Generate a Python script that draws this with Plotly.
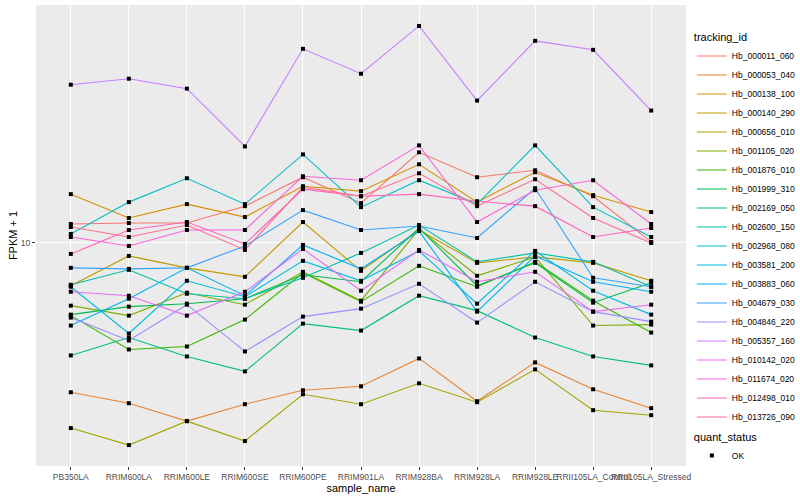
import math
import plotly.graph_objects as go

samples = ["PB350LA", "RRIM600LA", "RRIM600LE", "RRIM600SE", "RRIM600PE", "RRIM901LA",
           "RRIM928BA", "RRIM928LA", "RRIM928LE", "RRII105LA_Control", "RRII105LA_Stressed"]

tracking_ids = ["Hb_000011_060", "Hb_000053_040", "Hb_000138_100", "Hb_000140_290", "Hb_000656_010",
                "Hb_001105_020", "Hb_001876_010", "Hb_001999_310", "Hb_002169_050", "Hb_002600_150",
                "Hb_002968_080", "Hb_003581_200", "Hb_003883_060", "Hb_004679_030", "Hb_004846_220",
                "Hb_005357_160", "Hb_010142_020", "Hb_011674_020", "Hb_012498_010", "Hb_013726_090"]

colors = ["#F8766D", "#EA8331", "#D89000", "#C09B00", "#A3A500", "#7CAE00", "#39B600", "#00BB4E",
          "#00BF7D", "#00C1A3", "#00BFC4", "#00BAE0", "#00B0F6", "#35A2FF", "#9590FF", "#C77CFF",
          "#E76BF3", "#FA62DB", "#FF62BC", "#FF6C91"]

hb_000011_060 = [11.57, 11.66, 11.66, 13.28, 16.60, 13.59, 20.11, 16.60, 17.51, 14.34, 10.08]
hb_000053_040 = [3.162, 2.906, 2.531, 2.884, 3.211, 3.311, 4.105, 2.951, 3.981, 3.236, 2.797]
hb_000138_100 = [14.57, 12.12, 13.49, 12.21, 15.49, 14.91, 18.34, 13.70, 17.25, 14.45, 12.69]
hb_000140_290 = [7.189, 9.050, 8.254, 7.703, 11.75, 8.066, 11.05, 8.577, 8.981, 8.577, 7.470]
hb_000656_010 = [2.399, 2.105, 2.531, 2.171, 3.114, 2.884, 3.388, 2.929, 3.773, 2.754, 2.650]
hb_001105_020 = [6.166, 5.710, 6.813, 6.213, 8.005, 6.407, 11.13, 7.763, 8.981, 5.289, 5.329]
hb_001876_010 = [5.710, 4.399, 4.501, 5.538, 7.943, 6.358, 8.382, 7.134, 8.643, 6.407, 5.012]
hb_001999_310 = [5.754, 6.119, 6.261, 6.506, 7.822, 7.413, 11.22, 7.189, 8.577, 6.310, 7.356]
hb_002169_050 = [4.201, 4.823, 4.169, 3.715, 5.370, 5.089, 6.658, 5.934, 4.823, 4.169, 3.890]
hb_002600_150 = [7.244, 8.128, 6.761, 6.506, 7.644, 9.261, 11.48, 8.643, 9.261, 8.643, 7.134]
hb_002968_080 = [10.72, 13.70, 16.47, 13.49, 19.80, 13.18, 16.22, 13.49, 21.22, 13.18, 10.47]
hb_003581_200 = [7.134, 4.974, 7.470, 6.607, 8.710, 7.470, 9.405, 6.261, 9.405, 6.918, 5.754]
hb_003883_060 = [5.289, 6.506, 8.254, 6.658, 9.848, 8.191, 10.96, 5.888, 9.050, 7.413, 6.865]
hb_004679_030 = [8.254, 8.191, 8.254, 9.772, 12.88, 11.05, 11.39, 10.39, 15.25, 7.644, 7.134]
hb_004846_220 = [5.623, 4.713, 6.213, 4.332, 5.667, 6.026, 7.300, 5.412, 7.413, 5.888, 5.453]
hb_005357_160 = [33.88, 35.48, 32.86, 21.05, 44.67, 36.87, 53.29, 29.97, 47.50, 44.33, 27.75]
hb_010142_020 = [6.865, 6.658, 5.710, 6.865, 9.550, 6.918, 9.477, 7.413, 8.005, 5.888, 6.213]
hb_011674_020 = [10.47, 9.772, 11.05, 11.05, 16.72, 16.22, 21.22, 11.75, 15.02, 16.22, 11.57]
hb_012498_010 = [9.190, 11.05, 11.75, 9.924, 15.14, 14.34, 14.57, 13.80, 13.28, 10.47, 11.22]
hb_013726_090 = [11.31, 10.47, 11.48, 9.477, 15.37, 14.34, 17.11, 13.28, 16.34, 12.12, 10.00]

series = [hb_000011_060, hb_000053_040, hb_000138_100, hb_000140_290, hb_000656_010,
          hb_001105_020, hb_001876_010, hb_001999_310, hb_002169_050, hb_002600_150,
          hb_002968_080, hb_003581_200, hb_003883_060, hb_004679_030, hb_004846_220,
          hb_005357_160, hb_010142_020, hb_011674_020, hb_012498_010, hb_013726_090]

quant_status = "OK"
y_ticks = [10]

FONT = "Liberation Sans, Arial, sans-serif"

fig = go.Figure()
for name, col, vals in zip(tracking_ids, colors, series):
    fig.add_trace(go.Scatter(x=samples, y=vals, mode="lines", name=name,
                             line=dict(color=col, width=1.1), legend="legend",
                             hoverinfo="skip"))

all_x = [s for vals in series for s in samples]
all_y = [v for vals in series for v in vals]
fig.add_trace(go.Scatter(x=all_x, y=all_y, mode="markers", name=quant_status,
                         marker=dict(symbol="square", size=4, color="black"),
                         legend="legend2"))

lo = math.log10(min(all_y))
hi = math.log10(max(all_y))
pad = (hi - lo) * 0.05

fig.update_layout(
    width=800, height=500,
    margin=dict(l=36, r=114, t=5, b=34, autoexpand=False),
    paper_bgcolor="white", plot_bgcolor="#EBEBEB",
    font=dict(family=FONT, size=11, color="black"),
    xaxis=dict(type="category", categoryorder="array", categoryarray=samples,
               range=[-0.6, len(samples) - 0.4], tickangle=0, automargin=False,
               showgrid=True, gridcolor="white", gridwidth=1.1,
               ticks="outside", ticklen=3, tickcolor="#333333", tickwidth=1,
               tickfont=dict(size=8.5, color="#4D4D4D", family=FONT),
               title=dict(text="sample_name", font=dict(size=11), standoff=2),
               zeroline=False, showline=False),
    yaxis=dict(type="log", range=[lo - pad, hi + pad], automargin=False,
               tickvals=y_ticks, ticktext=[str(t) for t in y_ticks],
               showgrid=True, gridcolor="white", gridwidth=1.1,
               ticks="outside", ticklen=3, tickcolor="#333333", tickwidth=1,
               tickfont=dict(size=8.5, color="#4D4D4D", family=FONT),
               title=dict(text="FPKM + 1", font=dict(size=11), standoff=0),
               zeroline=False, showline=False, minor=dict(showgrid=False)),
    legend=dict(title=dict(text="tracking_id", font=dict(size=11)),
                x=1.009, y=0.952, xanchor="left", yanchor="top",
                font=dict(size=8.5), tracegroupgap=0, bgcolor="rgba(0,0,0,0)",
                itemwidth=30),
    legend2=dict(title=dict(text="quant_status", font=dict(size=11)),
                 x=1.009, y=0.085, xanchor="left", yanchor="top",
                 font=dict(size=8.5), bgcolor="rgba(0,0,0,0)", itemwidth=30),
    showlegend=True,
)

fig.write_html("out.html", config={"displayModeBar": False},
               post_script="document.body.style.margin='0px';")
